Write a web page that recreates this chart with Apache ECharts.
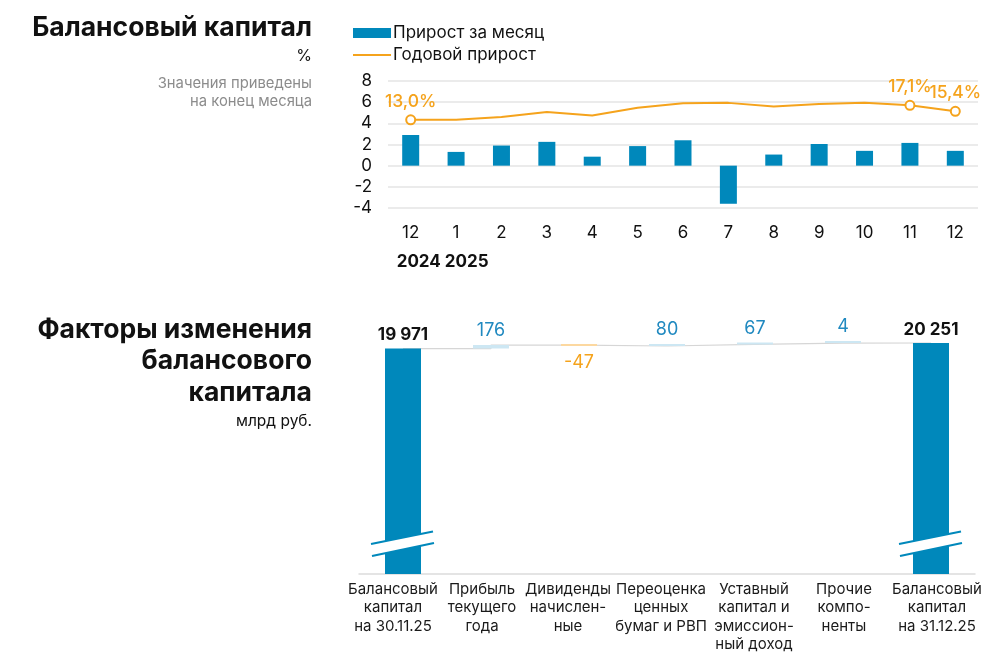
<!DOCTYPE html>
<html>
<head>
<meta charset="utf-8">
<script src="https://cdn.jsdelivr.net/npm/echarts@6/dist/echarts.min.js"></script>
<style>
  html, body { margin: 0; padding: 0; background: #fff; }
  #main { width: 1001px; height: 659px; }
</style>
</head>
<body>
<div id="main"></div>
<script>
// верхний график: прирост балансового капитала, %
var months = ['12', '1', '2', '3', '4', '5', '6', '7', '8', '9', '10', '11', '12'];
var years = ['2024', '2025'];
var monthGrowth = [2.9, 1.3, 1.9, 2.25, 0.85, 1.85, 2.4, -3.6, 1.05, 2.05, 1.4, 2.15, 1.4];
var yearGrowth = [13.0, 13.0, 13.8, 15.2, 14.2, 16.4, 17.7, 17.8, 16.8, 17.5, 17.8, 17.1, 15.4];
var yearGrowthShown = [0, 11, 12];   // точки с подписью
var leftMin = -4, leftMax = 8, leftStep = 2;
var rightMin = -12, rightMax = 24;   // скрытая ось годового прироста

// нижний график: факторы изменения, млрд руб.
var factorNames = [
  'Балансовый\nкапитал\nна 30.11.25',
  'Прибыль\nтекущего\nгода',
  'Дивиденды\nначислен-\nные',
  'Переоценка\nценных\nбумаг и РВП',
  'Уставный\nкапитал и\nэмиссион-\nный доход',
  'Прочие\nкомпо-\nненты',
  'Балансовый\nкапитал\nна 31.12.25'
];
var factorValues = [19971, 176, -47, 80, 67, 4, 20251];
var factorAxisMin = 8700, factorAxisMax = 21000;
// сдвиг подписей категорий относительно столбцов (px)
var labelShift = [-10, -9, -11, -6, -1, 1, 6];

var BLUE = '#0088bb', ORANGE = '#f5a31c';

// раскладка водопада
var baseArr = [], upArr = [], downArr = [], totalArr = [], levelArr = [];
var run = 0;
factorValues.forEach(function (v, i) {
  if (i === 0 || i === factorValues.length - 1) {
    totalArr.push(v); baseArr.push('-'); upArr.push('-'); downArr.push('-');
    run = v;
  } else {
    var next = run + v;
    baseArr.push(Math.min(run, next));
    upArr.push(v > 0 ? v : '-');
    downArr.push(v < 0 ? -v : '-');
    totalArr.push('-');
    run = next;
  }
  levelArr.push(run);
});

function fmtThousands(v) {
  return String(v).replace(/\B(?=(\d{3})+(?!\d))/g, ' ');
}
function fmtPct(v) {
  return v.toFixed(1).replace('.', ',') + '%';
}

var myChart = echarts.init(document.getElementById('main'));

var lineData = yearGrowth.map(function (v, i) {
  if (yearGrowthShown.indexOf(i) >= 0) {
    return { value: v, symbol: 'emptyCircle', symbolSize: 9, label: { show: true } };
  }
  return v;
});

// rich-стили для сдвига подписей
var catRich = {};
labelShift.forEach(function (s, i) {
  catRich['c' + i] = {
    fontSize: 15, lineHeight: 18.5, color: '#1a1a1a', fontFamily: 'Inter',
    padding: s < 0 ? [0, -2 * s, 0, 0] : [0, 0, 0, 2 * s]
  };
});

function leftText(x, y, text, size, weight, color) {
  return {
    type: 'text', x: x, y: y,
    style: { text: text, x: 0, y: 0, align: 'right', verticalAlign: 'middle',
      font: weight + ' ' + size + 'px Inter', fill: color }
  };
}

var option = {
  backgroundColor: '#fff',
  animation: false,
  textStyle: { fontFamily: 'Inter' },
  legend: {
    orient: 'vertical',
    left: 352, top: 23, padding: 0,
    itemWidth: 38, itemHeight: 10, itemGap: 2,
    textStyle: { fontSize: 17, color: '#111', lineHeight: 20, padding: [0, 0, 0, -3] },
    data: [
      { name: 'Прирост за месяц', icon: 'rect' },
      { name: 'Годовой прирост', itemStyle: { opacity: 0 } }
    ]
  },
  grid: [
    { left: 388, right: 23, top: 81, bottom: 451 },
    { left: 359, right: 26, top: 328, bottom: 85 }
  ],
  xAxis: [{
    gridIndex: 0, type: 'category', data: months,
    axisLine: { show: false, onZero: false }, axisTick: { show: false },
    axisLabel: { color: '#111', fontSize: 17, margin: 16 }
  }, {
    gridIndex: 1, type: 'category', data: factorNames,
    axisLine: { show: true, lineStyle: { color: '#dcdcdc', width: 1.5 } },
    axisTick: { show: false },
    axisLabel: {
      interval: 0, margin: 6, rich: catRich,
      formatter: function (value, idx) {
        return value.split('\n').map(function (l) { return '{c' + idx + '|' + l + '}'; }).join('\n');
      }
    }
  }],
  yAxis: [{
    gridIndex: 0, type: 'value', min: leftMin, max: leftMax, interval: leftStep,
    axisLine: { show: false }, axisTick: { show: false },
    axisLabel: { color: '#111', fontSize: 17, margin: 16 },
    splitLine: { lineStyle: { color: '#e4e4e4', width: 1.5 } }
  }, {
    gridIndex: 0, type: 'value', min: rightMin, max: rightMax, show: false,
    splitLine: { show: false }
  }, {
    gridIndex: 1, type: 'value', min: factorAxisMin, max: factorAxisMax, show: false,
    splitLine: { show: false }
  }],
  series: [{
    name: 'Прирост за месяц', type: 'bar',
    xAxisIndex: 0, yAxisIndex: 0,
    barWidth: 17,
    itemStyle: { color: BLUE },
    data: monthGrowth
  }, {
    name: 'Годовой прирост', type: 'line',
    xAxisIndex: 0, yAxisIndex: 1,
    symbol: 'none', showSymbol: true,
    lineStyle: { color: ORANGE, width: 2 },
    itemStyle: { color: ORANGE, borderWidth: 1.8 },
    label: { show: false, position: 'top', distance: 4, color: ORANGE, fontSize: 17.5, fontWeight: 500,
      formatter: function (p) { return fmtPct(p.value); } },
    z: 5,
    data: lineData
  }, {
    name: 'connector', type: 'line',
    xAxisIndex: 1, yAxisIndex: 2,
    step: 'end', symbol: 'none', silent: true,
    lineStyle: { color: '#d6d6d6', width: 1.2 },
    z: 1,
    data: levelArr
  }, {
    name: 'base', type: 'bar', stack: 'w',
    xAxisIndex: 1, yAxisIndex: 2, barWidth: 36, clip: true,
    itemStyle: { color: 'rgba(0,0,0,0)' }, silent: true,
    data: baseArr
  }, {
    name: 'up', type: 'bar', stack: 'w',
    xAxisIndex: 1, yAxisIndex: 2, barWidth: 36, clip: true, barMinHeight: 2,
    itemStyle: { color: '#cde7f3' },
    label: { show: true, position: 'top', distance: 5, color: '#2089c0', fontSize: 18 },
    data: upArr
  }, {
    name: 'down', type: 'bar', stack: 'w',
    xAxisIndex: 1, yAxisIndex: 2, barWidth: 36, clip: true, barMinHeight: 2,
    itemStyle: { color: '#fcd8a0' },
    label: { show: true, position: 'bottom', distance: 8, color: ORANGE, fontSize: 18,
      formatter: function (p) { return '-' + p.value; } },
    data: downArr
  }, {
    name: 'total', type: 'bar', stack: 'w',
    xAxisIndex: 1, yAxisIndex: 2, barWidth: 36, clip: true,
    itemStyle: { color: BLUE },
    label: { show: true, position: 'top', distance: 5, color: '#111', fontSize: 17, fontWeight: 'bold',
      formatter: function (p) { return fmtThousands(p.value); } },
    data: totalArr
  }]
};

myChart.setOption(option);

// подписи слева, годы под осью и разрывы на больших столбцах
var graphics = [
  leftText(312, 28, 'Балансовый капитал', 26.5, 'bold', '#111'),
  leftText(312, 56, '%', 16, 'normal', '#111'),
  leftText(312, 84, 'Значения приведены', 14.8, 'normal', '#8c8c8c'),
  leftText(312, 102, 'на конец месяца', 14.8, 'normal', '#8c8c8c'),
  leftText(312, 330, 'Факторы изменения', 26.5, 'bold', '#111'),
  leftText(312, 361, 'балансового', 26.5, 'bold', '#111'),
  leftText(312, 393, 'капитала', 26.5, 'bold', '#111'),
  leftText(312, 421, 'млрд руб.', 15.5, 'normal', '#111')
];

var yearPos = myChart.convertToPixel({ gridIndex: 0 }, [0, leftMin]);
graphics.push({
  type: 'text', x: yearPos[0] - 14, y: yearPos[1] + 54,
  style: { text: years.join(' '), x: 0, y: 0, align: 'left', verticalAlign: 'middle',
    font: 'bold 17px Inter', fill: '#111' }
});

[0, factorValues.length - 1].forEach(function (idx) {
  var p = myChart.convertToPixel({ gridIndex: 1 }, [idx, factorAxisMin]);
  var cx = p[0], y0 = p[1];
  var a1 = [cx - 32, y0 - 30], a2 = [cx + 30, y0 - 42.5];
  var b1 = [cx - 31, y0 - 18], b2 = [cx + 31, y0 - 31];
  graphics.push({
    type: 'polygon', z: 100,
    shape: { points: [a1, a2, b2, b1] },
    style: { fill: '#fff' }
  });
  graphics.push({
    type: 'line', z: 101,
    shape: { x1: a1[0], y1: a1[1], x2: a2[0], y2: a2[1] },
    style: { stroke: BLUE, lineWidth: 2.2 }
  });
  graphics.push({
    type: 'line', z: 101,
    shape: { x1: b1[0], y1: b1[1], x2: b2[0], y2: b2[1] },
    style: { stroke: BLUE, lineWidth: 2.2 }
  });
});

myChart.setOption({ graphic: graphics });
</script>
</body>
</html>
